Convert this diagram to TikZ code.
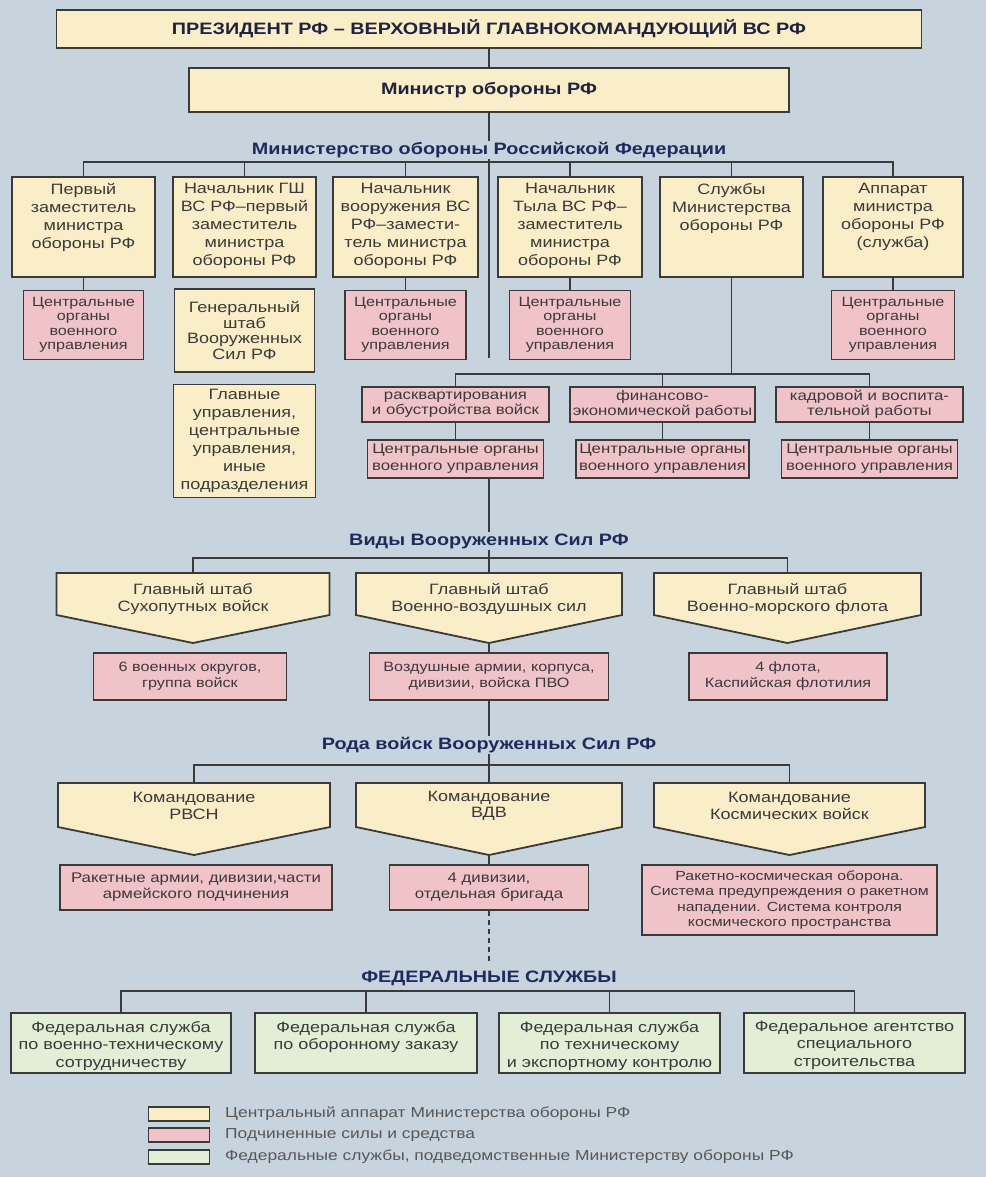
\documentclass[tikz,border=0pt]{standalone}
\usepackage{fontspec}
\setmainfont{Liberation Sans}[FakeStretch=1.2]
\usetikzlibrary{calc}
\definecolor{bg}{HTML}{C7D4DD}
\definecolor{yel}{HTML}{FAEEC8}
\definecolor{pnk}{HTML}{F0C3C9}
\definecolor{grn}{HTML}{E2EFD6}
\definecolor{ink}{HTML}{3A3A3A}
\definecolor{navy}{HTML}{1F2B5E}
\definecolor{topink}{HTML}{1D2340}
\definecolor{edge}{HTML}{3A3A3A}
\newcommand\fs[2]{\fontsize{#1}{#2}\selectfont}
\newcommand\tbox[3]{\parbox[c][#2pt][t]{#1pt}{\centering #3}}
\newcommand\pentshape[6]{%
  \coordinate (#1top) at (#2,#3);
  \coordinate (#1tip) at (#2,#6);
  \draw[pent] (#2-#4,#3) -- (#2+#4,#3) -- (#2+#4,#5) -- (#1tip) -- (#2-#4,#5) -- cycle;}
\begin{document}
\begin{tikzpicture}[x=1pt,y=-1pt,
  box/.style={draw=edge, line width=1.8pt, inner sep=0pt, text=ink, align=center},
  ybox/.style={box, fill=yel},
  pbox/.style={box, fill=pnk},
  gbox/.style={box, fill=grn},
  conn/.style={draw=edge, line width=1.6pt},
  ttl/.style={text=navy, font=\bfseries\fs{16.5}{18}, inner sep=1pt},
  pent/.style={draw=edge, line width=1.8pt, fill=yel, line join=miter},
  ptxt/.style={text=ink, align=center, inner sep=0pt, font=\fs{15}{16.5}},
  rowone/.style={ybox, minimum height=100, font=\fs{15}{18}},
  psmall/.style={pbox, minimum height=69, font=\fs{13.5}{14.5}},
  leg/.style={anchor=west, text=ink!85, inner sep=0pt, font=\fs{14.5}{16}}
]
\useasboundingbox (0,0) rectangle (986,1177);
\fill[bg] (0,0) rectangle (986,1177);

% top
\node[ybox, minimum width=865, minimum height=38, text=topink, font=\bfseries\fs{16.5}{18}] (pres) at (489,29) {ПРЕЗИДЕНТ РФ – ВЕРХОВНЫЙ ГЛАВНОКОМАНДУЮЩИЙ ВС РФ};
\node[ybox, minimum width=600, minimum height=44, text=topink, font=\bfseries\fs{16.5}{18}] (min) at (489,90) {Министр обороны РФ};
\node[ttl] (t1) at (489,150) {Министерство обороны Российской Федерации};

% row 1
\node[rowone, minimum width=143] (b1) at (83.5,227) {\tbox{135}{88}{Первый\\заместитель\\министра\\обороны РФ}};
\node[rowone, minimum width=143] (b2) at (244.5,227) {\tbox{135}{88}{Начальник ГШ\\ВС РФ–первый\\заместитель\\министра\\обороны РФ}};
\node[rowone, minimum width=145] (b3) at (405.5,227) {\tbox{137}{88}{Начальник\\вооружения ВС\\РФ–замести-\\тель министра\\обороны РФ}};
\node[rowone, minimum width=144] (b4) at (570,227) {\tbox{136}{88}{Начальник\\Тыла ВС РФ–\\заместитель\\министра\\обороны РФ}};
\node[rowone, minimum width=143] (b5) at (731.5,227) {\tbox{135}{88}{Службы\\Министерства\\обороны РФ}};
\node[rowone, minimum width=140] (b6) at (893,227) {\tbox{132}{88}{Аппарат\\министра\\обороны РФ\\(служба)}};

% row 2
\node[psmall, minimum width=120] (p1) at (83.5,325) {Центральные\\органы\\военного\\управления};
\node[ybox, minimum width=140, minimum height=83, font=\fs{15}{15.5}] (gs) at (244.5,330.5) {Генеральный\\штаб\\Вооруженных\\Сил РФ};
\node[psmall, minimum width=121] (p3) at (405.5,325) {Центральные\\органы\\военного\\управления};
\node[psmall, minimum width=121] (p4) at (570,325) {Центральные\\органы\\военного\\управления};
\node[psmall, minimum width=123] (p6) at (893,325) {Центральные\\органы\\военного\\управления};
\node[ybox, minimum width=142, minimum height=113, font=\fs{15}{18}] (gl) at (244.5,441) {Главные\\управления,\\центральные\\управления,\\иные\\подразделения};

% services
\node[pbox, minimum width=187, minimum height=35, font=\fs{14}{15.5}] (sa) at (455.5,404.5) {расквартирования\\и обустройства войск};
\node[pbox, minimum width=185, minimum height=35, font=\fs{14}{15.5}] (sb) at (662.5,404.5) {финансово-\\экономической работы};
\node[pbox, minimum width=187, minimum height=35, font=\fs{14}{15.5}] (sc) at (869.5,404.5) {кадровой и воспита-\\тельной работы};
\node[pbox, minimum width=176, minimum height=38, font=\fs{14}{17}] (sa2) at (455.5,459) {Центральные органы\\военного управления};
\node[pbox, minimum width=173, minimum height=38, font=\fs{14}{17}] (sb2) at (662.5,459) {Центральные органы\\военного управления};
\node[pbox, minimum width=176, minimum height=38, font=\fs{14}{17}] (sc2) at (869.5,459) {Центральные органы\\военного управления};

% kinds of forces
\node[ttl] (t2) at (489,541) {Виды Вооруженных Сил РФ};
\pentshape{P1}{193}{573}{136.5}{615}{643}
\pentshape{P2}{489}{573}{133}{615}{643}
\pentshape{P3}{787.5}{573}{133.5}{615}{643}
\node[ptxt] (P1txt) at (193,599) {Главный штаб\\Сухопутных войск};
\node[ptxt] (P2txt) at (489,599) {Главный штаб\\Военно-воздушных сил};
\node[ptxt] (P3txt) at (787.5,599) {Главный штаб\\Военно-морского флота};
\node[pbox, minimum width=193, minimum height=47, font=\fs{13.5}{16}] (q1) at (190,676.5) {6 военных округов,\\группа войск};
\node[pbox, minimum width=239, minimum height=47, font=\fs{13.5}{16}] (q2) at (489,676.5) {Воздушные армии, корпуса,\\дивизии, войска ПВО};
\node[pbox, minimum width=198, minimum height=47, font=\fs{13.5}{16}] (q3) at (788,676.5) {4 флота,\\Каспийская флотилия};

% arms
\node[ttl] (t3) at (489,745) {Рода войск Вооруженных Сил РФ};
\pentshape{R1}{194}{783}{136}{827}{855}
\pentshape{R2}{489}{783}{133}{827}{855}
\pentshape{R3}{789.5}{783}{135.5}{827}{855}
\node[ptxt] (R1txt) at (194,806) {Командование\\РВСН};
\node[ptxt] (R2txt) at (489,806) {Командование\\ВДВ};
\node[ptxt] (R3txt) at (789.5,806) {Командование\\Космических войск};
\node[pbox, minimum width=272, minimum height=45, font=\fs{14}{16}] (r1) at (196,887.5) {Ракетные армии, дивизии,части\\армейского подчинения};
\node[pbox, minimum width=199, minimum height=45, font=\fs{14}{16}] (r2) at (489,887.5) {4 дивизии,\\отдельная бригада};
\node[pbox, minimum width=295, minimum height=70, font=\fs{13.2}{15.5}] (r3) at (789.5,900) {Ракетно-космическая оборона.\\Система предупреждения о ракетном\\нападении. Система контроля\\космического пространства};

% federal services
\node[ttl] (t4) at (489,978) {ФЕДЕРАЛЬНЫЕ СЛУЖБЫ};
\node[gbox, minimum width=220, minimum height=60, font=\fs{15}{17.5}] (g1) at (121,1043) {\tbox{212}{44}{Федеральная служба\\по военно-техническому\\сотрудничеству}};
\node[gbox, minimum width=222, minimum height=60, font=\fs{15}{17.5}] (g2) at (366,1043) {\tbox{214}{44}{Федеральная служба\\по оборонному заказу}};
\node[gbox, minimum width=221, minimum height=60, font=\fs{15}{17.5}] (g3) at (609.5,1043) {\tbox{213}{44}{Федеральная служба\\по техническому\\и экспортному контролю}};
\node[gbox, minimum width=221, minimum height=60, font=\fs{15}{17.5}] (g4) at (854.5,1043) {\tbox{213}{44}{Федеральное агентство\\специального\\строительства}};

% legend
\node[box, fill=yel, minimum width=61, minimum height=14] (l1) at (179,1114) {};
\node[box, fill=pnk, minimum width=61, minimum height=14] (l2) at (179,1135) {};
\node[box, fill=grn, minimum width=61, minimum height=14] (l3) at (179,1157) {};
\node[leg] (l1t) at (225,1114) {Центральный аппарат Министерства обороны РФ};
\node[leg] (l2t) at (225,1135) {Подчиненные силы и средства};
\node[leg] (l3t) at (225,1157) {Федеральные службы, подведомственные Министерству обороны РФ};

% connectors
\draw[conn] (pres.south) -- (min.north);
\draw[conn] (min.south) -- (t1.north);
\coordinate (trunkend) at (489,358);
\draw[conn] (t1.south) -- (trunkend);
\draw[conn] (b1.north) -- ++(0,-14) -| (b6.north);
\foreach \b in {b2,b3,b4,b5} \draw[conn] (\b.north) -- ++(0,-14);
\draw[conn] (b1.south) -- (p1.north);
\draw[conn] (b3.south) -- (p3.north);
\draw[conn] (b4.south) -- (p4.north);
\draw[conn] (b6.south) -- (p6.north);
\coordinate (svc) at (731.5,375);
\draw[conn] (b5.south) -- (svc);
\draw[conn] (sa.north) -- ++(0,-12) -| (sc.north);
\draw[conn] (sb.north) -- ++(0,-12);
\draw[conn] (sa.south) -- (sa2.north);
\draw[conn] (sb.south) -- (sb2.north);
\draw[conn] (sc.south) -- (sc2.north);
\draw[conn] (sa2.south -| t2.north) -- (t2.north);
\draw[conn] (t2.south) -- (P2top);
\draw[conn] (P1top) -- ++(0,-15) -| (P3top);
\draw[conn] (P2tip) -- (q2.north);
\draw[conn] (q2.south) -- (t3.north);
\draw[conn] (t3.south) -- (R2top);
\draw[conn] (R1top) -- ++(0,-18) -| (R3top);
\draw[conn] (R2tip) -- (r2.north);
\coordinate (dashend) at (489,962);
\draw[conn, dash pattern=on 5pt off 4pt] (r2.south) -- (dashend);
\draw[conn] (g1.north) -- ++(0,-21) -| (g4.north);
\draw[conn] (g2.north) -- ++(0,-21);
\draw[conn] (g3.north) -- ++(0,-21);
\end{tikzpicture}
\end{document}
